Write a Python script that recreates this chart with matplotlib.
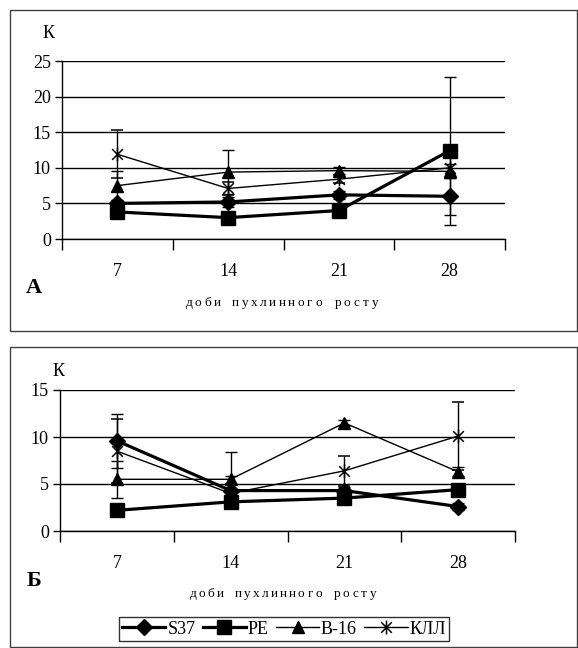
import matplotlib
matplotlib.use("Agg")
import matplotlib.pyplot as plt
from matplotlib.patches import Rectangle
from matplotlib.path import Path
import numpy as np

plt.rcParams['font.family'] = ['Liberation Serif', 'DejaVu Serif']

days = ["7", "14", "21", "28"]
series_names = ["S37", "РЕ", "В-16", "КЛЛ"]

# Panel A values and errors
a_s37 = [5.0, 5.2, 6.2, 6.0]
a_pe = [3.8, 3.0, 4.0, 12.4]
a_b16 = [7.5, 9.4, 9.6, 9.5]
a_kll = [11.9, 7.1, 8.4, 10.0]
a_s37_err = [0.5, 0.7, 0.6, 2.6]
a_pe_err = [0.4, 0.3, 0.4, 10.4]
a_b16_err = [2.1, 3.1, 0.5, 1.0]
a_kll_err = [3.4, 0.9, 0.6, 1.5]

# Panel B values and errors
b_s37 = [9.6, 4.3, 4.3, 2.6]
b_pe = [2.2, 3.1, 3.5, 4.4]
b_b16 = [5.5, 5.5, 11.5, 6.3]
b_kll = [8.5, 4.0, 6.4, 10.1]
b_s37_err = [2.9, 1.6, 0.4, 0.4]
b_pe_err = [0.2, 0.2, 0.2, 0.3]
b_b16_err = [2.0, 2.9, 0.3, 0.5]
b_kll_err = [3.4, 1.0, 1.6, 3.6]

W, H = 578, 648
fig = plt.figure(figsize=(W / 100, H / 100), dpi=100)

# panel frames
fig.patches.append(Rectangle((10 / W, 1 - 331 / H), 567 / W, 321 / H, transform=fig.transFigure,
                             fill=False, edgecolor='#404040', lw=1))
fig.patches.append(Rectangle((10 / W, 1 - 647 / H), 567 / W, 300 / H, transform=fig.transFigure,
                             fill=False, edgecolor='#404040', lw=1))

star = Path([(-1, -1), (1, 1), (-1, 1), (1, -1), (0, -1.3), (0, 1.3)],
            [Path.MOVETO, Path.LINETO, Path.MOVETO, Path.LINETO, Path.MOVETO, Path.LINETO])

styles = [
    dict(marker='D', ms=8.5, lw=2.3),
    dict(marker='s', ms=9.5, lw=2.3),
    dict(marker='^', ms=8.5, lw=1.0),
    dict(marker=star, ms=10, lw=1.0, mew=1.1),
]


def draw_panel(ax, vals, errs, ymax):
    x = np.arange(len(days)) + 0.5
    for v, e, st in zip(vals, errs, styles):
        ax.errorbar(x, v, yerr=e, color='black', ecolor='black', elinewidth=1.0,
                    capsize=4, capthick=1.0, mfc='black', mec='black', **st)
    ax.set_xlim(0, len(days))
    ax.set_ylim(0, ymax)
    ax.set_yticks(np.arange(0, ymax + 1, 5))
    ax.set_xticks(np.arange(0, len(days) + 1))
    ax.set_xticklabels([])
    ax.set_xticks(x, minor=True)
    ax.set_xticklabels(days, minor=True)
    ax.tick_params(axis='x', which='minor', length=0, pad=17, labelsize=13)
    ax.tick_params(axis='x', which='major', length=8, direction='out', width=1)
    ax.tick_params(axis='y', length=5, direction='out', width=1, labelsize=13, pad=3)
    ax.yaxis.grid(True, color='black', lw=1)
    ax.set_axisbelow(True)
    for s in ['top', 'right']:
        ax.spines[s].set_visible(False)
    for s in ['left', 'bottom']:
        ax.spines[s].set_linewidth(1)


axA = fig.add_axes([62 / W, 1 - 239 / H, 443 / W, 178 / H])
draw_panel(axA, [a_s37, a_pe, a_b16, a_kll], [a_s37_err, a_pe_err, a_b16_err, a_kll_err], 25)
axB = fig.add_axes([60 / W, 1 - 531 / H, 455 / W, 141 / H])
draw_panel(axB, [b_s37, b_pe, b_b16, b_kll], [b_s37_err, b_pe_err, b_b16_err, b_kll_err], 15)

# axis labels
fig.text(49 / W, 1 - 34 / H, "К", fontsize=13, ha='center', va='center')
fig.text(59 / W, 1 - 371 / H, "К", fontsize=13, ha='center', va='center')
fig.text(34 / W, 1 - 288 / H, "А", fontsize=16, fontweight='bold', ha='center', va='center')
fig.text(34 / W, 1 - 581 / H, "Б", fontsize=16, fontweight='bold', ha='center', va='center')

xlabel = "доби пухлинного росту"


def spaced_label(cx, cy, text, pitch=9.3):
    n = len(text)
    start = cx - pitch * (n - 1) / 2
    for i, ch in enumerate(text):
        if ch != ' ':
            fig.text((start + i * pitch) / W, 1 - cy / H, ch, fontsize=9.5,
                     ha='center', va='center')


spaced_label(282, 303, xlabel)
spaced_label(283, 594, xlabel, pitch=9.0)

# legend
handles = []
for name, st in zip(series_names, styles):
    h, = axB.plot([], [], color='black', mfc='black', mec='black', label=name, **st)
    handles.append(h)
leg = fig.legend(handles=handles, loc='center', bbox_to_anchor=(284 / W, 1 - 629 / H),
                 ncol=4, fontsize=13, frameon=True, fancybox=False, handlelength=2.4,
                 handletextpad=0.1, columnspacing=0.4, borderpad=0.2, borderaxespad=0)
leg.get_frame().set_edgecolor('black')
leg.get_frame().set_linewidth(1)

fig.savefig("out.png", dpi=100)
